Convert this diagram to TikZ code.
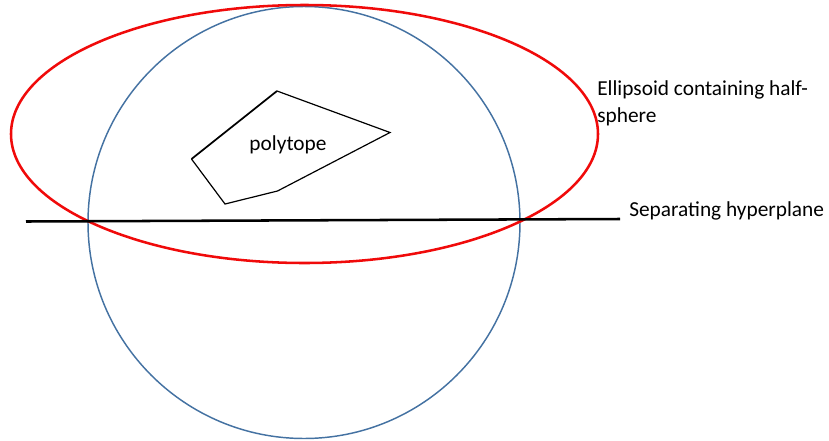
\documentclass[tikz,border=0pt]{standalone}
\usepackage{fontspec}
\setmainfont{Carlito}
\usepackage{xcolor}
\usetikzlibrary{positioning,calc}

\definecolor{sphereblue}{RGB}{68,114,162}
\definecolor{ellred}{RGB}{240,10,10}

\begin{document}
\begin{tikzpicture}[
  x=0.75pt, y=-0.75pt,
  sphere/.style={draw=sphereblue, line width=1.1pt},
  ell/.style={draw=ellred, line width=1.9pt},
  plane/.style={draw=black, line width=1.9pt},
  poly/.style={draw=black, line width=0.9pt, line join=miter},
  lbl/.style={font=\fontsize{16pt}{20pt}\selectfont, inner sep=0pt, align=left}
]
\useasboundingbox (0,0) rectangle (829,440);

% sphere and ellipsoid
\draw[sphere] (304,222.5) circle[radius=216];
\draw[ell] (304.5,134) ellipse[x radius=293.5, y radius=129];

% separating hyperplane
\coordinate (hl) at (26,221.5);
\coordinate (hr) at (620,219);
\draw[plane] (hl) -- (hr);

% polytope
\coordinate (p1) at (277,91);
\coordinate (p2) at (390,132.5);
\coordinate (p3) at (277.5,191);
\coordinate (p4) at (225,204);
\coordinate (p5) at (191.5,159);
\draw[poly] (p1) -- (p2) -- (p3) -- (p4) -- (p5);
\draw[poly, line width=1.3pt] (p5) -- (p1);
\node[lbl] (polylbl) at (288,145) {polytope};

% labels
\node[lbl, anchor=west] (elllbl) at (597,103.5) {Ellipsoid containing half-\\sphere};
\node[lbl, anchor=west] (planelbl) at (629,211) {Separating hyperplane};
\end{tikzpicture}
\end{document}
